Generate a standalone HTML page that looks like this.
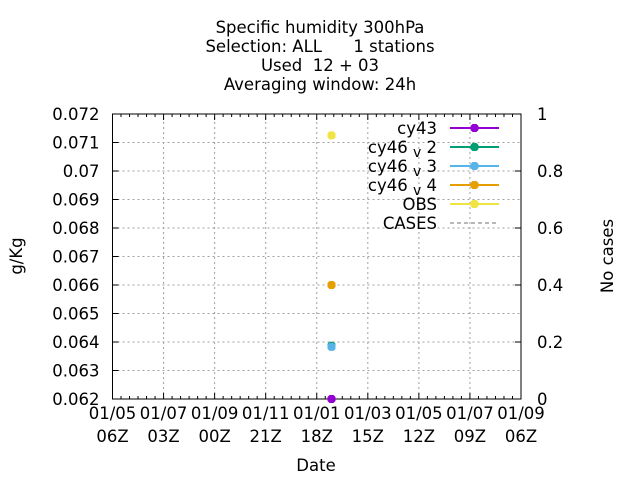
<!DOCTYPE html>
<html><head><meta charset="utf-8"><style>
body{margin:0;background:#fff}
svg{display:block;font-family:"DejaVu Sans","Liberation Sans",sans-serif}
</style></head><body>
<svg id="c" width="640" height="480" viewBox="0 0 640 480">
<g font-size="16.5" text-anchor="middle" fill="#000">
<text x="320" y="33">Specific humidity 300hPa</text>
<text x="320" y="52" xml:space="preserve">Selection: ALL      1 stations</text>
<text x="320" y="71" xml:space="preserve">Used  12 + 03</text>
<text x="320" y="90">Averaging window: 24h</text>
</g>
<g id="grid"></g>
<g id="axes"></g>
<g id="marks"></g>
<text x="22" y="256" font-size="16.5" text-anchor="middle" transform="rotate(-90 22 256)">g/Kg</text>
<text x="613" y="256" font-size="16.5" text-anchor="middle" transform="rotate(-90 613 256)">No cases</text>
<text x="316" y="471" font-size="16.5" text-anchor="middle">Date</text>
<g id="legend"></g>
</svg>
<script>
const xTickLabels1=["01/05","01/07","01/09","01/11","01/01","01/03","01/05","01/07","01/09"];
const xTickLabels2=["06Z","03Z","00Z","21Z","18Z","15Z","12Z","09Z","06Z"];
const yTicks=[0.062,0.063,0.064,0.065,0.066,0.067,0.068,0.069,0.07,0.071,0.072];
const y2Ticks=[0,0.2,0.4,0.6,0.8,1];
const seriesNames=["cy43","cy46v2","cy46v3","cy46v4","OBS"];
const seriesColors=["#9400d3","#009e73","#56b4e9","#e69f00","#f0e442"];
const pointHours=[193,193,193,193,193];
const seriesValues=[0.0620,0.06387,0.06383,0.0660,0.07125];
const X0=112.5,X1=521,Y0=399,Y1=114,XMAX=360,FS=16.5;
const NS="http://www.w3.org/2000/svg";
function xs(h){return X0+(X1-X0)*h/XMAX;}
function ys(v){return Y0-(Y0-Y1)*(v-0.062)/0.010;}
function y2s(v){return Y0-(Y0-Y1)*v;}
function mk(t,a,p){const e=document.createElementNS(NS,t);for(const k in a)e.setAttribute(k,a[k]);p.appendChild(e);return e;}
const grid=document.getElementById('grid'),axes=document.getElementById('axes'),marks=document.getElementById('marks'),leg=document.getElementById('legend');
const gs={stroke:"#a0a0a0","stroke-width":1,"stroke-dasharray":"2,3"};
yTicks.forEach((v,i)=>{const y=ys(v);
 if(i>0&&i<yTicks.length-1){const l=mk('line',Object.assign({x1:X0,x2:X1,y1:y,y2:y},gs),grid);}
 mk('line',{x1:X0,x2:X0+6,y1:y,y2:y,stroke:"#000"},axes);
 const t=mk('text',{x:X0-13,y:y+6,"font-size":FS,"text-anchor":"end"},axes);t.textContent=String(v);
 });
y2Ticks.forEach(v=>{const y=y2s(v);
 mk('line',{x1:X1-6,x2:X1,y1:y,y2:y,stroke:"#000"},axes);
 const t=mk('text',{x:X1+16,y:y+6,"font-size":FS},axes);t.textContent=String(v);
 });
for(let i=0;i<xTickLabels1.length;i++){const h=i*45,x=xs(h);
 if(i>0&&i<xTickLabels1.length-1){const l=mk('line',Object.assign({x1:x,x2:x,y1:Y0,y2:Y1},gs),grid);}
 mk('line',{x1:x,x2:x,y1:Y0,y2:Y0-6,stroke:"#000"},axes);mk('line',{x1:x,x2:x,y1:Y1,y2:Y1+6,stroke:"#000"},axes);
 const t=mk('text',{x:x,y:419,"font-size":FS,"text-anchor":"middle"},axes);t.textContent=xTickLabels1[i];
 
 const t2=mk('text',{x:x,y:442,"font-size":FS,"text-anchor":"middle"},axes);t2.textContent=xTickLabels2[i];
 
 if(i<xTickLabels1.length-1)for(let m=1;m<6;m++){const xm=xs(h+m*7.5);
  mk('line',{x1:xm,x2:xm,y1:Y0,y2:Y0-3,stroke:"#000"},axes);mk('line',{x1:xm,x2:xm,y1:Y1,y2:Y1+3,stroke:"#000"},axes);}}
const fr=mk('rect',{x:X0,y:Y1,width:X1-X0,height:Y0-Y1,fill:"none",stroke:"#000","stroke-width":1},axes);

function marker(x,y,c,p){return mk('path',{d:`M${x-2},${y-4}h4l2,2v4l-2,2h-4l-2,-2v-4z`,fill:c},p);}
seriesValues.forEach((v,i)=>{const m=marker(xs(pointHours[i]),ys(v),seriesColors[i],marks);
 });
const legLabels=[["cy43",""],["cy46","2"],["cy46","3"],["cy46","4"],["OBS",""],["CASES",""]];
legLabels.forEach((L,i)=>{const y=128+i*19;
 const g=mk('g',{},leg);
 const t=mk('text',{x:437,y:y+6,"font-size":FS,"text-anchor":"end"},g);
 if(L[1]){t.textContent=L[0]+" ";const s=mk('tspan',{"font-size":14,dy:4},t);s.textContent="v";const s2=mk('tspan',{dy:-4},t);s2.textContent=" "+L[1];}
 else t.textContent=L[0];
 if(i<5){mk('line',{x1:450,x2:499,y1:y,y2:y,stroke:seriesColors[i],"stroke-width":2},g);marker(474.5,y,seriesColors[i],g);}
 else mk('line',{x1:450,x2:496,y1:y,y2:y,stroke:"#a0a0a0","stroke-width":1.5,"stroke-dasharray":"4,3"},g);});
</script>
</body></html>
